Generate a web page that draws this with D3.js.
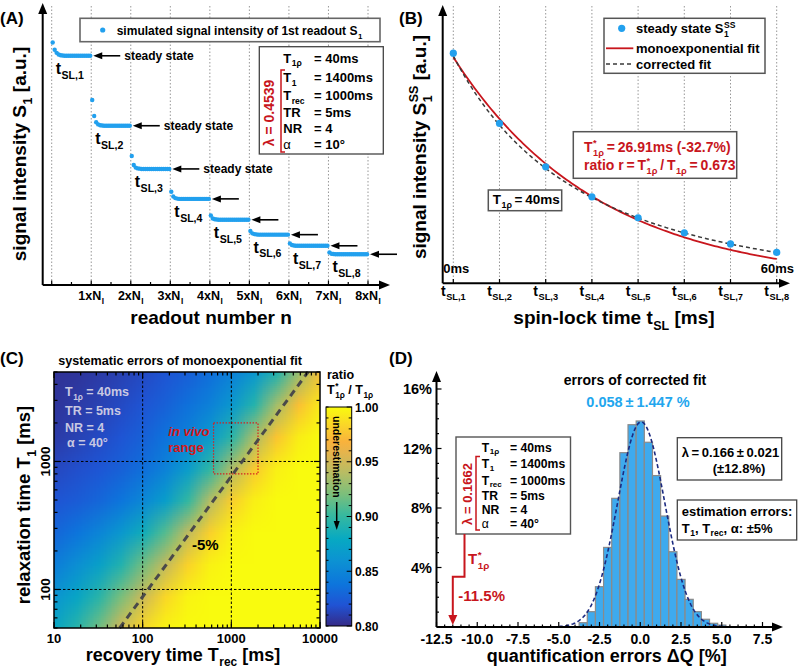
<!DOCTYPE html>
<html><head><meta charset="utf-8">
<script src="https://cdn.jsdelivr.net/npm/d3@7"></script>
<style>body{margin:0;background:#fff}svg text{white-space:pre}</style>
</head><body>
<svg id="fig" width="800" height="668"></svg>
<script>
// ---------------- DATA ----------------
// Panel A: readouts per segment and signal values (a.u.)
const NI = 20;
const steadyState = [0.865, 0.601, 0.438, 0.325, 0.246, 0.190, 0.148, 0.116];
const transients = [
  [0.915, 0.888, 0.876, 0.870, 0.867, 0.866],
  [0.698, 0.638, 0.614, 0.606, 0.603, 0.602],
  [0.487, 0.453, 0.443, 0.440, 0.439],
  [0.352, 0.334, 0.328, 0.326],
  [0.262, 0.251, 0.248, 0.247],
  [0.204, 0.195, 0.192, 0.191],
  [0.157, 0.151, 0.149],
  [0.123, 0.118, 0.117]
];
const segLabels = ['1', '2', '3', '4', '5', '6', '7', '8'];
const paramsA = [['T', '1ρ', '= 40ms'], ['T', '1', '= 1400ms'], ['T', 'rec', '= 1000ms'], ['TR', '', '= 5ms'], ['NR', '', '= 4'], ['α', '', '= 10°']];
// Panel B: spin-lock times (ms) and fit parameters
const tSL = [0, 8.571, 17.143, 25.714, 34.286, 42.857, 51.429, 60];
const T1rhoStar = 26.91, monoAmp = 0.85;
const T1rho = 40, lambdaCorr = 0.4539, corrAmp = 0.467;
// Panel C: ratio map (rows: T1, columns: Trec)
const heatTrec = [10, 17.78, 31.62, 56.23, 100, 177.8, 316.2, 562.3, 1000, 1778, 3162, 5623, 10000];
const heatT1 = [5012, 2818, 1585, 891, 501, 282, 158, 89, 50];
const heatRatio = [
  [0.804, 0.805, 0.808, 0.811, 0.815, 0.820, 0.826, 0.835, 0.847, 0.864, 0.891, 0.930, 0.972],
  [0.805, 0.808, 0.811, 0.815, 0.820, 0.827, 0.836, 0.847, 0.865, 0.893, 0.933, 0.974, 0.993],
  [0.808, 0.811, 0.815, 0.820, 0.827, 0.837, 0.848, 0.866, 0.895, 0.935, 0.976, 0.994, 1.000],
  [0.814, 0.817, 0.821, 0.827, 0.835, 0.848, 0.868, 0.897, 0.937, 0.978, 0.995, 1.000, 1.000],
  [0.820, 0.824, 0.830, 0.839, 0.852, 0.870, 0.899, 0.939, 0.980, 0.995, 1.000, 1.000, 1.000],
  [0.830, 0.838, 0.850, 0.865, 0.884, 0.910, 0.943, 0.981, 0.996, 1.000, 1.000, 1.000, 1.000],
  [0.845, 0.857, 0.872, 0.892, 0.918, 0.945, 0.982, 0.996, 1.000, 1.000, 1.000, 1.000, 1.000],
  [0.862, 0.876, 0.895, 0.920, 0.948, 0.984, 0.997, 1.000, 1.000, 1.000, 1.000, 1.000, 1.000],
  [0.878, 0.895, 0.918, 0.951, 0.985, 0.997, 1.000, 1.000, 1.000, 1.000, 1.000, 1.000, 1.000]
];
const contour95 = [[55, 50], [7330, 5000]];
const invivoTrec = [630, 2000], invivoT1 = [800, 2000];
const cTicksX = [10, 100, 1000, 10000], cTicksY = [100, 1000];
const cbTicks = [0.80, 0.85, 0.90, 0.95, 1.00];
const parulaT = [0, 0.0952, 0.1905, 0.3016, 0.3968, 0.5079, 0.6032, 0.6984, 0.7937, 0.8413, 0.9048, 1];
const parulaC = ['#352a87', '#2053d4', '#0d75dc', '#0c93d2', '#07a9c2', '#38b99e', '#7cbf7b', '#b7bd64', '#e6b44c', '#f9b23c', '#fad02c', '#f9fb0e'];
// Panel D: histogram of quantification errors
const binCenters = [-3.5, -3, -2.5, -2, -1.5, -1, -0.5, 0, 0.5, 1, 1.5, 2, 2.5, 3, 3.5, 4, 4.5, 5];
const binPercent = [0.29, 1.03, 2.71, 5.35, 8.65, 11.72, 13.6, 13.85, 12.42, 10.18, 7.46, 5.06, 3.2, 1.86, 1.03, 0.52, 0.25, 0.13];
const binWidth = 0.5;
const fitMean = 0.058, fitSD = 1.447;
const dTicksX = [-12.5, -10, -7.5, -5, -2.5, 0, 2.5, 5, 7.5];
const dTicksY = [4, 8, 12, 16];
const biasPct = -11.5;
const paramsD = [['T', '1ρ', '= 40ms'], ['T', '1', '= 1400ms'], ['T', 'rec', '= 1000ms'], ['TR', '', '= 5ms'], ['NR', '', '= 4'], ['α', '', '= 40°']];

// ---------------- HELPERS ----------------
const svg = d3.select('#fig');
const FONT = "'Liberation Sans', Arial, Helvetica, sans-serif";
const BLUE = '#22a0ee', RED = '#c8161d';
const TS = '\u2009';

function txt(p, x, y, s, size, o = {}) {
  const t = p.append('text').attr('x', x).attr('y', y).attr('font-family', FONT)
    .attr('font-size', size).attr('font-weight', o.weight || 'bold').attr('fill', o.color || '#000')
    .attr('text-anchor', o.anchor || 'start').text(s);
  if (o.italic) t.attr('font-style', 'italic');
  return t;
}
function rich(parent, parts, o) {
  const size = o.size || 13;
  const g = parent.append('g').attr('transform', `translate(${o.x},${o.y})` + (o.rotate ? ` rotate(${o.rotate})` : ''));
  const inner = g.append('g');
  let cx = 0;
  const put = (s, x, dy, fs) => {
    const t = inner.append('text').attr('x', x).attr('y', dy).attr('font-family', FONT).attr('font-size', fs)
      .attr('font-weight', o.weight || 'bold').attr('fill', o.color || '#000').text(s);
    if (o.italic) t.attr('font-style', 'italic');
    return t.node().getComputedTextLength();
  };
  parts.forEach(p => {
    if (typeof p === 'string') p = { t: p };
    if (p.t !== undefined) cx += put(p.t, cx, 0, size);
    let w = 0;
    const r = o.subRatio || 0.66;
    if (p.sub) w = Math.max(w, put(p.sub, cx + 0.5, size * (o.subDy || 0.3), size * r));
    if (p.sup) w = Math.max(w, put(p.sup, cx + 0.5, -size * 0.42, size * r));
    cx += w ? w + 0.5 : 0;
  });
  if (o.anchor === 'middle') inner.attr('transform', `translate(${-cx / 2},0)`);
  else if (o.anchor === 'end') inner.attr('transform', `translate(${-cx},0)`);
  return cx;
}
function head(g, x, y, dir, len = 9, half = 3.5, color = '#000') {
  let p;
  if (dir === 'left') p = [[x, y], [x + len, y - half], [x + len, y + half]];
  else if (dir === 'right') p = [[x, y], [x - len, y - half], [x - len, y + half]];
  else if (dir === 'up') p = [[x, y], [x - half, y + len], [x + half, y + len]];
  else p = [[x, y], [x - half, y - len], [x + half, y - len]];
  g.append('path').attr('d', 'M' + p.map(q => q.join(',')).join('L') + 'Z').attr('fill', color);
}
function line(g, x1, y1, x2, y2, o = {}) {
  const l = g.append('line').attr('x1', x1).attr('y1', y1).attr('x2', x2).attr('y2', y2)
    .attr('stroke', o.color || '#000').attr('stroke-width', o.w || 1);
  if (o.dash) l.attr('stroke-dasharray', o.dash);
  return l;
}
function box(g, x, y, w, h, o = {}) {
  return g.append('rect').attr('x', x).attr('y', y).attr('width', w).attr('height', h)
    .attr('fill', o.fill || '#fff').attr('stroke', o.color || '#555').attr('stroke-width', o.w || 1.4);
}
const parula = d3.scaleLinear().domain(parulaT.map(t => 0.8 + 0.2 * t)).range(parulaC).interpolate(d3.interpolateRgb).clamp(true);

// ---------------- PANEL A ----------------
const gA = svg.append('g');
const xA = d3.scaleLinear().domain([0, 8 * NI]).range([51.7, 368]);
const yA = d3.scaleLinear().domain([0, 1]).range([285, 20]);
d3.range(0, 9).forEach(k => line(gA, xA(k * NI), 6, xA(k * NI), 285, { color: '#8c8c8c', w: 0.9, dash: '1.5,2' }));
const ptsA = [];
steadyState.forEach((ss, k) => {
  for (let i = 0; i < NI; i++) ptsA.push({ n: k * NI + i + 0.5, v: i < transients[k].length ? transients[k][i] : ss });
});
gA.selectAll('circle.pa').data(ptsA).join('circle').attr('class', 'pa')
  .attr('cx', d => xA(d.n)).attr('cy', d => yA(d.v)).attr('r', 2.2).attr('fill', BLUE);
steadyState.forEach((ss, k) => {
  const x0 = xA((k + 1) * NI) + 2, y = yA(ss);
  line(gA, x0 + 6, y, x0 + 27, y, { w: 1.6 });
  head(gA, x0, y, 'left', 9, 3.5);
  if (k < 3) txt(gA, x0 + 31, y + 4, 'steady state', 12);
  rich(gA, [{ t: 't', sub: 'SL,' + segLabels[k] }], { x: xA(k * NI) + 4, y: y + 18, size: 16, subRatio: 0.66 });
});
// axes
line(gA, 42.7, 285, 42.7, 12, { w: 2 }); head(gA, 42.7, 3, 'up', 11, 4.5);
line(gA, 42.7, 285, 381, 285, { w: 2 }); head(gA, 390, 285, 'right', 11, 4.5);
for (let k = 0; k <= 16; k++) line(gA, xA(k * NI / 2), 285, xA(k * NI / 2), 285 - (k % 2 ? 3 : 4.5), { w: 1.2 });
d3.range(1, 9).forEach(k => rich(gA, [{ t: k + 'xN', sub: 'I' }], { x: xA(k * NI), y: 300, size: 12.5, anchor: 'middle' }));
// legend
box(gA, 80, 18.3, 300, 23.4, { color: '#666', w: 1.6 });
gA.append('circle').attr('cx', 102.7).attr('cy', 30).attr('r', 2.6).attr('fill', BLUE);
rich(gA, ['simulated signal intensity of 1st readout S', { sub: '1' }], { x: 116.7, y: 35, size: 12 });
// parameters box
box(gA, 259.3, 46.7, 124, 107.3, { color: '#444', w: 1.3 });
const rowYA = [63, 82.4, 100.4, 117.4, 133.2, 148.8];
paramsA.forEach((p, i) => {
  rich(gA, [p[1] ? { t: p[0], sub: p[1] } : p[0]], { x: 283.3, y: rowYA[i], size: 13, subDy: 0.26, weight: p[0] === 'α' ? 'normal' : 'bold' });
  txt(gA, 314, rowYA[i], p[2], 13);
});
gA.append('path').attr('d', 'M285,70 H281 V152 H285').attr('fill', 'none').attr('stroke', RED).attr('stroke-width', 1.5);
rich(gA, ['λ = ' + lambdaCorr.toFixed(4)], { x: 274, y: 113, size: 14, rotate: -90, anchor: 'middle', color: RED });
rich(gA, ['signal intensity S', { sub: '1' }, ' [a.u.]'], { x: 26, y: 154, size: 19, rotate: -90, anchor: 'middle' });
txt(gA, 211, 324, 'readout number n', 19, { anchor: 'middle' });
txt(gA, 0, 24, '(A)', 17);

// ---------------- PANEL B ----------------
const gB = svg.append('g');
const xB = d3.scaleLinear().domain([0, 60]).range([453.3, 776.7]);
const yB = d3.scaleLinear().domain([0, 1]).range([283.3, 17.3]);
tSL.forEach(t => line(gB, xB(t), 6, xB(t), 283.3, { color: '#8c8c8c', w: 0.9, dash: '1.5,2' }));
const tFine = d3.range(0, 60.01, 0.5);
const monoFit = tFine.map(t => [t, monoAmp * Math.exp(-t / T1rhoStar)]);
const corrFit = tFine.map(t => { const e = Math.exp(-t / T1rho); return [t, corrAmp * e / (1 - lambdaCorr * e)]; });
const lnB = d3.line().x(d => xB(d[0])).y(d => yB(d[1]));
gB.append('path').attr('d', lnB(monoFit)).attr('fill', 'none').attr('stroke', RED).attr('stroke-width', 1.8);
gB.append('path').attr('d', lnB(corrFit)).attr('fill', 'none').attr('stroke', '#3a3a3a').attr('stroke-width', 1.5).attr('stroke-dasharray', '4,3');
gB.selectAll('circle.pb').data(tSL.map((t, i) => [t, steadyState[i]])).join('circle').attr('class', 'pb')
  .attr('cx', d => xB(d[0])).attr('cy', d => yB(d[1])).attr('r', 3.6).attr('fill', BLUE);
line(gB, 442.7, 283.3, 442.7, 14, { w: 2 }); head(gB, 442.7, 5, 'up', 11, 4.5);
line(gB, 442.7, 283.3, 781, 283.3, { w: 2 }); head(gB, 790, 283.3, 'right', 11, 4.5);
tSL.forEach((t, i) => {
  line(gB, xB(t), 283.3, xB(t), 279, { w: 1.2 });
  rich(gB, [{ t: 't', sub: 'SL,' + segLabels[i] }], { x: xB(t), y: 296, size: 14, anchor: 'middle', subRatio: 0.66 });
});
txt(gB, 443.3, 272.7, '0ms', 13);
txt(gB, 760.7, 272.7, '60ms', 13);
// legend
box(gB, 604, 18.3, 161, 55, { color: '#555', w: 1.5 });
gB.append('circle').attr('cx', 621.7).attr('cy', 28.3).attr('r', 3.6).attr('fill', BLUE);
rich(gB, ['steady state S', { sub: '1', sup: 'SS' }], { x: 636, y: 33, size: 13 });
line(gB, 606, 48.3, 633.3, 48.3, { color: RED, w: 1.8 });
txt(gB, 636, 52.8, 'monoexponential fit', 13);
line(gB, 606, 64, 633.3, 64, { color: '#3a3a3a', w: 1.5, dash: '4,3' });
txt(gB, 636, 68.5, 'corrected fit', 13);
// red result box
box(gB, 573.3, 131.7, 163.4, 46.6, { color: '#555', w: 1.5 });
rich(gB, [{ t: 'T', sub: '1ρ', sup: '*' }, TS + '=' + TS + T1rhoStar.toFixed(2) + 'ms (-32.7%)'], { x: 584, y: 151.5, size: 14, color: RED });
rich(gB, ['ratio r' + TS + '=' + TS, { t: 'T', sub: '1ρ', sup: '*' }, TS + '/' + TS, { t: 'T', sub: '1ρ' }, TS + '=' + TS + '0.673'], { x: 584, y: 169.5, size: 14, color: RED });
box(gB, 488.3, 190, 73.4, 20.7, { color: '#555', w: 1.5 });
rich(gB, [{ t: 'T', sub: '1ρ' }, TS + '=' + TS + T1rho + 'ms'], { x: 492.7, y: 204, size: 13.5 });
rich(gB, ['signal intensity S', { sub: '1', sup: 'SS' }, ' [a.u.]'], { x: 426, y: 147, size: 19, rotate: -90, anchor: 'middle' });
rich(gB, ['spin-lock time t', { sub: 'SL' }, ' [ms]'], { x: 614, y: 324, size: 19, anchor: 'middle' });
txt(gB, 399, 24, '(B)', 17);

// ---------------- PANEL C ----------------
const gC = svg.append('g');
const xC = d3.scaleLog().domain([10, 10000]).range([54, 320]);
const yC = d3.scaleLog().domain([50, 5000]).range([628, 372]);
const PX = 54, PY = 372, PW = 266, PH = 256;
{
  const nC = heatTrec.length, nR = heatT1.length;
  const small = document.createElement('canvas'); small.width = nC; small.height = nR;
  const sctx = small.getContext('2d'); const img = sctx.createImageData(nC, nR);
  heatRatio.forEach((row, r) => row.forEach((v, c) => {
    const col = d3.rgb(parula(v)); const i = (r * nC + c) * 4;
    img.data[i] = col.r; img.data[i + 1] = col.g; img.data[i + 2] = col.b; img.data[i + 3] = 255;
  }));
  sctx.putImageData(img, 0, 0);
  const S = 2;
  const big = document.createElement('canvas'); big.width = PW * S; big.height = PH * S;
  const bctx = big.getContext('2d'); bctx.imageSmoothingEnabled = true;
  const hx = (xC(heatTrec[1]) - xC(heatTrec[0])) / 2;
  const hy = (yC(heatT1[1]) - yC(heatT1[0])) / 2;
  const l = xC(heatTrec[0]) - hx - PX, r = xC(heatTrec[nC - 1]) + hx - PX;
  const t = yC(heatT1[0]) - hy - PY, b = yC(heatT1[nR - 1]) + hy - PY;
  bctx.drawImage(small, l * S, t * S, (r - l) * S, (b - t) * S);
  gC.append('image').attr('href', big.toDataURL()).attr('x', PX).attr('y', PY).attr('width', PW).attr('height', PH).attr('preserveAspectRatio', 'none');
}
[100, 1000].forEach(v => line(gC, xC(v), PY, xC(v), PY + PH, { w: 1, dash: '2.5,2' }));
cTicksY.forEach(v => line(gC, PX, yC(v), PX + PW, yC(v), { w: 1, dash: '2.5,2' }));
gC.append('rect').attr('x', xC(invivoTrec[0])).attr('y', yC(invivoT1[1])).attr('width', xC(invivoTrec[1]) - xC(invivoTrec[0]))
  .attr('height', yC(invivoT1[0]) - yC(invivoT1[1])).attr('fill', 'none').attr('stroke', '#d42020').attr('stroke-width', 1.2).attr('stroke-dasharray', '1.5,1.5');
gC.append('path').attr('d', d3.line().x(d => xC(d[0])).y(d => yC(d[1]))(contour95)).attr('stroke', '#4a4a4a').attr('stroke-width', 3).attr('stroke-dasharray', '7,5').attr('fill', 'none');
gC.append('rect').attr('x', PX).attr('y', PY).attr('width', PW).attr('height', PH).attr('fill', 'none').attr('stroke', '#000').attr('stroke-width', 1.5);
// ticks
[10, 100, 1000].forEach(dec => d3.range(1, 10).forEach(m => {
  const v = dec * m; if (v > 10000) return; const len = m === 1 ? 6 : 3.5;
  line(gC, xC(v), PY + PH, xC(v), PY + PH - len, { w: 1.2 }); line(gC, xC(v), PY, xC(v), PY + len, { w: 1.2 });
}));
line(gC, xC(10000), PY + PH, xC(10000), PY + PH - 6, { w: 1.2 });
[10, 100, 1000].forEach(dec => d3.range(1, 10).forEach(m => {
  const v = dec * m; if (v < 50 || v > 5000) return; const len = m === 1 ? 6 : 3.5;
  line(gC, PX, yC(v), PX + len, yC(v), { w: 1.2 }); line(gC, PX + PW, yC(v), PX + PW - len, yC(v), { w: 1.2 });
}));
cTicksX.forEach(v => txt(gC, xC(v), 642.5, String(v), 13, { anchor: 'middle' }));
cTicksY.forEach(v => txt(gC, 0, 0, String(v), 13.5, { anchor: 'middle' }).attr('transform', `translate(50,${yC(v)}) rotate(-90)`));
// in-plot text
const ltc = '#c8c8e2';
rich(gC, [{ t: 'T', sub: '1ρ' }, ' = 40ms'], { x: 65, y: 396, size: 12.5, color: ltc });
txt(gC, 65, 414.5, 'TR = 5ms', 12.5, { color: ltc });
txt(gC, 65, 431.5, 'NR = 4', 12.5, { color: ltc });
txt(gC, 67, 447, 'α = 40°', 12.5, { color: ltc });
txt(gC, 168.3, 436, 'in vivo', 13, { color: '#d41818', italic: true });
txt(gC, 168.3, 451.5, 'range', 13, { color: '#d41818' });
txt(gC, 192, 550, '-5%', 15);
txt(gC, 58.3, 365, 'systematic errors of monoexponential fit', 12.6);
// colorbar
const yCB = d3.scaleLinear().domain([0.8, 1]).range([626, 407]);
const grad = svg.append('defs').append('linearGradient').attr('id', 'parulaGrad').attr('x1', 0).attr('y1', 1).attr('x2', 0).attr('y2', 0);
parulaT.forEach((t, i) => grad.append('stop').attr('offset', t).attr('stop-color', parulaC[i]));
gC.append('rect').attr('x', 326).attr('y', yCB(1)).attr('width', 25.7).attr('height', yCB(0.8) - yCB(1)).attr('fill', 'url(#parulaGrad)').attr('stroke', '#000').attr('stroke-width', 1);
d3.range(0, 21).forEach(i => {
  const v = 0.8 + i * 0.01; const len = i % 5 === 0 ? 5 : 3;
  line(gC, 351.7, yCB(v), 351.7 - len, yCB(v), { w: 1 }); line(gC, 326, yCB(v), 326 + 2.5, yCB(v), { w: 1 });
});
cbTicks.forEach(v => txt(gC, 355, yCB(v) + 4.5, v.toFixed(2), 12));
txt(gC, 327, 378.5, 'ratio', 12.5);
rich(gC, [{ t: 'T', sub: '1ρ', sup: '*' }, ' / ', { t: 'T', sub: '1ρ' }], { x: 327, y: 394, size: 12.5 });
txt(gC, 0, 0, 'underestimation', 10.5).attr('transform', 'translate(333,416) rotate(90)');
line(gC, 336.7, 502, 336.7, 522, { w: 1.5 }); head(gC, 336.7, 530, 'down', 9, 3);
rich(gC, ['recovery time T', { sub: 'rec' }, ' [ms]'], { x: 183, y: 661, size: 18, anchor: 'middle' });
rich(gC, ['relaxation time T', { sub: '1' }, ' [ms]'], { x: 30, y: 505, size: 18.5, rotate: -90, anchor: 'middle' });
txt(gC, 0, 364, '(C)', 17);

// ---------------- PANEL D ----------------
const gD = svg.append('g');
const xD = d3.scaleLinear().domain([-12.5, 7.5]).range([436.5, 762.5]);
const yD = d3.scaleLinear().domain([0, 16]).range([627, 389]);
gD.selectAll('rect.bar').data(binCenters.map((c, i) => [c, binPercent[i]])).join('rect').attr('class', 'bar')
  .attr('x', d => xD(d[0] - binWidth / 2)).attr('width', d => xD(d[0] + binWidth / 2) - xD(d[0] - binWidth / 2))
  .attr('y', d => yD(d[1])).attr('height', d => yD(0) - yD(d[1]))
  .attr('fill', '#3eaaee').attr('stroke', '#8a8a8a').attr('stroke-width', 1.2);
const gaussPts = d3.range(-5, 5.31, 0.05).map(x => [x, 100 * binWidth / (fitSD * Math.sqrt(2 * Math.PI)) * Math.exp(-((x - fitMean) ** 2) / (2 * fitSD * fitSD))]);
gD.append('path').attr('d', d3.line().x(d => xD(d[0])).y(d => yD(d[1]))(gaussPts)).attr('fill', 'none')
  .attr('stroke', '#1b2a80').attr('stroke-width', 1.6).attr('stroke-dasharray', '4,2.5');
line(gD, xD(-12.5), 627, xD(-12.5), 380, { w: 2 }); head(gD, xD(-12.5), 371, 'up', 11, 4.5);
line(gD, xD(-12.5), 627, 774, 627, { w: 2 }); head(gD, 783, 627, 'right', 11, 4.5);
d3.range(0, 17).forEach(v => line(gD, xD(-12.5), yD(v), xD(-12.5) + (v % 4 === 0 ? 5 : 2.5), yD(v), { w: 1.2 }));
d3.range(0, 41).forEach(i => { const v = -12.5 + i * 0.5; line(gD, xD(v), 627, xD(v), 627 - (i % 5 === 0 ? 5 : 2.5), { w: 1.2 }); });
dTicksX.forEach(v => txt(gD, xD(v), 644, v.toFixed(1), 14, { anchor: 'middle' }));
dTicksY.forEach(v => txt(gD, 432, yD(v) + 5, v + '%', 14.5, { anchor: 'end' }));
txt(gD, 635, 385, 'errors of corrected fit', 14, { anchor: 'middle' });
txt(gD, 638, 406.5, fitMean.toFixed(3) + TS + '±' + TS + fitSD.toFixed(3) + ' %', 14.5, { anchor: 'middle', color: '#22a6ee' });
// params box
box(gD, 456, 437, 114.5, 97, { color: '#555', w: 1.4 });
const rowYD = [451.5, 468, 484.5, 499.5, 513.5, 527.5];
paramsD.forEach((p, i) => {
  rich(gD, [p[1] ? { t: p[0], sub: p[1] } : p[0]], { x: 481.7, y: rowYD[i], size: 12.2, subDy: 0.24, weight: p[0] === 'α' ? 'normal' : 'bold' });
  txt(gD, 510, rowYD[i], p[2], 12.2);
});
gD.append('path').attr('d', 'M480,456.5 H476 V530 H480').attr('fill', 'none').attr('stroke', RED).attr('stroke-width', 1.5);
rich(gD, ['λ = 0.1662'], { x: 472, y: 494, size: 13, rotate: -90, anchor: 'middle', color: RED });
gD.append('path').attr('d', `M464.5,534 V576.7 H${xD(biasPct)} V616`).attr('fill', 'none').attr('stroke', RED).attr('stroke-width', 2);
head(gD, xD(biasPct), 625, 'down', 10, 4.5, RED);
rich(gD, [{ t: 'T', sub: '1ρ', sup: '*' }], { x: 468, y: 564, size: 15, color: RED });
txt(gD, 458.3, 601, biasPct.toFixed(1) + '%', 15, { color: RED });
// lambda box
box(gD, 677.3, 437.7, 104.4, 42.3, { color: '#444', w: 1.3 });
txt(gD, 681.7, 456.5, 'λ' + TS + '=' + TS + '0.166' + TS + '±' + TS + '0.021', 13);
txt(gD, 739, 473, '(±12.8%)', 13, { anchor: 'middle' });
box(gD, 677.3, 500, 119.4, 40, { color: '#444', w: 1.3 });
txt(gD, 681.7, 515.5, 'estimation errors:', 13);
rich(gD, [{ t: 'T', sub: '1' }, ', ', { t: 'T', sub: 'rec' }, ', α: ±5%'], { x: 681.7, y: 532.5, size: 13 });
txt(gD, 606.7, 662, 'quantification errors ΔQ [%]', 18, { anchor: 'middle' });
txt(gD, 389, 364, '(D)', 17);
</script>
</body></html>
